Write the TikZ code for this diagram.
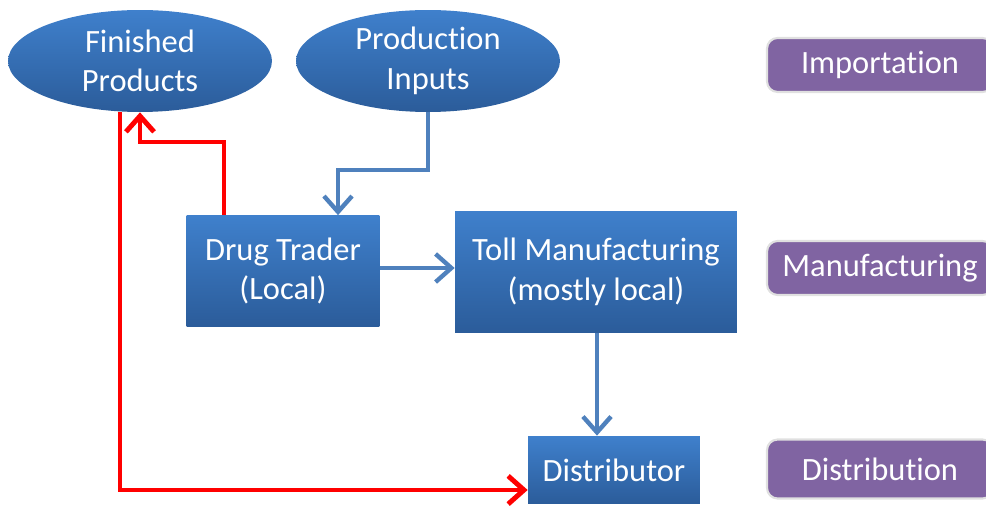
\documentclass[tikz,border=0pt]{standalone}
\usepackage{fontspec}
\setmainfont{Carlito}[Ligatures=NoCommon]
\usetikzlibrary{shapes.geometric,arrows.meta}

\definecolor{boxtop}{HTML}{3F80CC}
\definecolor{boxbot}{HTML}{2B5C9A}
\definecolor{linkblue}{HTML}{4F81BD}
\definecolor{stagepurple}{HTML}{8064A2}

\begin{document}
\begin{tikzpicture}[
    x=0.02cm, y=-0.02cm,
    font=\fontsize{18.5}{22.5}\selectfont,
    source/.style = {ellipse, top color=boxtop, bottom color=boxbot,
      text=white, align=center, minimum width=5.28cm, minimum height=2.04cm, inner sep=0pt},
    actor/.style  = {rectangle, top color=boxtop, bottom color=boxbot,
      text=white, align=center, inner sep=0pt},
    stage/.style  = {rectangle, rounded corners=6pt, fill=stagepurple, draw=black!12,
      line width=1.2pt, text=white, minimum width=4.52cm, inner sep=0pt},
    flow/.style   = {linkblue, line width=2.5pt,
      -{Straight Barb[length=9pt,width=16pt,line width=2.5pt]}},
    back/.style   = {red, line width=2.8pt,
      -{Straight Barb[length=9pt,width=16pt,line width=2.8pt]}}
  ]
  \clip (0,0) rectangle (986,506);

  \node [source] (finished) at (140,61)  {Finished\\Products};
  \node [source] (inputs)   at (428,61)  {Production\\Inputs};

  \node [actor, minimum width=3.86cm, minimum height=2.22cm] (trader) at (283,271)
    {Drug Trader\\(Local)};
  \node [actor, minimum width=5.64cm, minimum height=2.44cm] (toll) at (596,272)
    {Toll Manufacturing\\(mostly local)};
  \node [actor, minimum width=3.44cm, minimum height=1.36cm] (distributor) at (614,470)
    {Distributor};

  % stages on the right
  \node [stage, minimum height=1.08cm] (importation)   at (880,65)  {Importation};
  \node [stage, minimum height=1.08cm] (manufacturing) at (880,268) {Manufacturing};
  \node [stage, minimum height=1.18cm] (distribution)  at (880,469) {Distribution};

  \draw [flow] (inputs.south) -- (inputs.south |- 0,170) -| (trader.north -| 338,0);
  \draw [flow] (trader.east |- 0,268) -- (toll.west |- 0,268);
  \draw [flow] (toll.south -| 597,0) -- (distributor.north -| 597,0);

  \draw [back] (trader.north -| 224,0) -- (224,142) -| (finished.south);
  \draw [back] (finished.south -| 120,0) |- (distributor.west |- 0,490);
\end{tikzpicture}
\end{document}
